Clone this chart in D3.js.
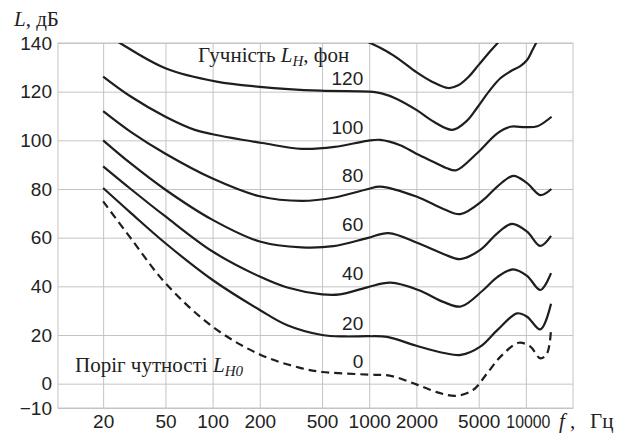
<!DOCTYPE html>
<html lang="uk">
<head>
<meta charset="UTF-8">
<title>Криві рівної гучності</title>
<script src="https://cdn.jsdelivr.net/npm/d3@7"></script>
<style>
  body { margin: 0; background: #fff; }
  .tick text { font-family: "Liberation Sans", Arial, sans-serif; font-size: 19px; fill: #222; }
  .tick line { stroke: #c4c4c4; stroke-width: 1; }
  .serif { font-family: "Liberation Serif", "Times New Roman", serif; font-size: 21px; fill: #222; }
  .num { font-family: "Liberation Sans", Arial, sans-serif; font-size: 19px; fill: #222; }
</style>
</head>
<body>
<script>
// осі
const freqTicks = [20, 50, 100, 200, 500, 1000, 2000, 5000, 10000];
const levelTicks = [-10, 0, 20, 40, 60, 80, 100, 120, 140];

// криві (частота, Гц / рівень, дБ)
const phon140F = [700, 1015, 1300, 1576, 2000, 2500, 3200, 3700, 4300, 5000, 6000, 6900];
const phon140L = [144, 140, 136.5, 133, 128, 124.2, 121.5, 122.6, 126, 131, 137, 141.3];

const phon120F = [20, 25.6, 50, 106, 200, 486, 1000, 1200, 1500, 2000, 2600, 3400, 4200, 4900, 5800, 6870, 7960, 9220, 10180, 11000, 11840];
const phon120L = [144.5, 140, 129.6, 124.1, 122, 120.4, 120, 119.3, 117, 112.5, 107.5, 104.3, 108, 113.5, 120, 125.5, 128.3, 130.5, 133, 137, 141];

const phon100F = [20, 30, 50, 77, 100, 207, 370, 600, 971, 1176, 1576, 2000, 2600, 3137, 3600, 4900, 6570, 7960, 10000, 11840, 14600];
const phon100L = [126.2, 118, 109.7, 104.3, 102.5, 98.9, 96.5, 97.3, 99.8, 100.2, 98, 94.5, 91, 88.5, 87.7, 94.8, 102.9, 105.6, 105.4, 105.8, 109.7];

const phon80F = [20, 30, 50, 100, 200, 370, 600, 971, 1176, 2000, 3000, 3816, 5350, 6570, 8315, 10180, 12380, 14560];
const phon80L = [112, 103.5, 94.5, 84.3, 77, 75.1, 76.5, 79.9, 81, 76.9, 71.7, 69.7, 75.5, 81, 85.4, 82.4, 77.5, 80];

const phon60F = [20, 30, 50, 100, 200, 370, 590, 971, 1327, 2060, 3000, 3816, 5117, 6570, 8160, 10180, 12380, 14480];
const phon60L = [100, 90.5, 79.7, 67.3, 58.4, 56, 56.5, 59.8, 61.9, 57.7, 53.2, 51.2, 55, 61.8, 65.7, 62.5, 56.6, 60.7];

const phon40F = [20, 30, 50, 100, 200, 300, 500, 650, 971, 1367, 2060, 3000, 3850, 5350, 6570, 8315, 10180, 12380, 14480];
const phon40L = [89.3, 80, 68.7, 54.3, 44, 39.5, 36.7, 36.7, 39.6, 41.5, 38.5, 33.5, 31.7, 38.5, 43.8, 47, 44.3, 38.5, 45.4];

const phon20F = [20, 30, 50, 100, 200, 300, 500, 700, 1000, 1300, 2000, 3000, 3850, 5117, 6570, 8790, 10180, 12380, 14480];
const phon20L = [80.4, 70.2, 57.7, 42.6, 30.3, 24, 20, 19.4, 19.5, 19.2, 15.6, 12.6, 11.8, 15.2, 22, 28.9, 27.5, 22.3, 32.8];

const phon0F = [20, 30, 50, 100, 200, 362, 500, 700, 1000, 1350, 2000, 2800, 3600, 4600, 5650, 6870, 8990, 10690, 12380, 13670, 14500];
const phon0L = [74.9, 59.8, 41.3, 23.4, 12, 6.5, 4.8, 4.2, 3.7, 3.3, -0.3, -3.8, -5, -2.6, 4.2, 11, 16.8, 15.2, 10.4, 12.5, 23];

const curves = [
  { f: phon140F, L: phon140L, label: null },
  { f: phon120F, L: phon120L, label: "120" },
  { f: phon100F, L: phon100L, label: "100" },
  { f: phon80F, L: phon80L, label: "80" },
  { f: phon60F, L: phon60L, label: "60" },
  { f: phon40F, L: phon40L, label: "40" },
  { f: phon20F, L: phon20L, label: "20" },
  { f: phon0F, L: phon0L, label: "0", dashed: true }
];

const W = 629, H = 435;
const pL = 58, pR = 573, pT = 43, pB = 408;

const svg = d3.select("body").append("svg")
  .attr("width", W).attr("height", H);

const x = d3.scaleLog().domain([10.3, 20000]).range([pL, pR]);
const y = d3.scaleLinear().domain([-10, 140]).range([pB, pT]);

// сітка + підписи осей
const gx = svg.append("g")
  .attr("transform", `translate(0,${pB})`)
  .call(d3.axisBottom(x).tickValues(freqTicks).tickFormat(d3.format("d"))
    .tickSize(-(pB - pT)).tickPadding(7));
gx.select(".domain").remove();
// 10000 трохи стиснуто, як на оригіналі
gx.selectAll(".tick text").filter(d => d === 10000)
  .attr("dx", 2).attr("textLength", 44).attr("lengthAdjust", "spacingAndGlyphs");

const gy = svg.append("g")
  .attr("transform", `translate(${pL},0)`)
  .call(d3.axisLeft(y).tickValues(levelTicks).tickSize(-(pR - pL)).tickPadding(6));
gy.select(".domain").remove();

svg.append("rect")
  .attr("x", pL).attr("y", pT)
  .attr("width", pR - pL).attr("height", pB - pT)
  .attr("fill", "none").attr("stroke", "#c4c4c4");

svg.append("clipPath").attr("id", "plot")
  .append("rect")
  .attr("x", pL).attr("y", pT)
  .attr("width", pR - pL).attr("height", pB - pT);

const line = d3.line()
  .x(d => x(d[0]))
  .y(d => y(d[1]))
  .curve(d3.curveCatmullRom.alpha(0.5));

const plot = svg.append("g").attr("clip-path", "url(#plot)");

curves.forEach(c => {
  plot.append("path")
    .datum(d3.zip(c.f, c.L))
    .attr("d", line)
    .attr("fill", "none")
    .attr("stroke", "#1e1e1e")
    .attr("stroke-width", 2.2)
    .attr("stroke-dasharray", c.dashed ? "8,5" : null);
});

// рівень кривої на 1000 Гц для підписів
function levelAt(fs, ls, f) {
  for (let i = 0; i < fs.length - 1; i++) {
    if (f >= fs[i] && f <= fs[i + 1]) {
      const t = Math.log(f / fs[i]) / Math.log(fs[i + 1] / fs[i]);
      return ls[i] + t * (ls[i + 1] - ls[i]);
    }
  }
  return ls[0];
}

curves.filter(c => c.label).forEach(c => {
  svg.append("text")
    .attr("class", "num")
    .attr("x", x(1000) - 6)
    .attr("y", y(levelAt(c.f, c.L, 1000)) - 6.5)
    .attr("text-anchor", "end")
    .text(c.label);
});

// назви осей
const yt = svg.append("text").attr("class", "serif").attr("x", 14).attr("y", 26);
yt.append("tspan").attr("font-style", "italic").text("L");
yt.append("tspan").text(", дБ");

const xt = svg.append("text").attr("class", "serif").attr("y", 428);
xt.append("tspan").attr("x", 559).attr("font-style", "italic").text("f");
xt.append("tspan").attr("x", 570).text(",");
xt.append("tspan").attr("x", 590).text("Гц");

const t1 = svg.append("text").attr("class", "serif").attr("x", 198).attr("y", 62);
t1.append("tspan").text("Гучність ");
t1.append("tspan").attr("font-style", "italic").text("L");
t1.append("tspan").attr("font-style", "italic").attr("font-size", "15px").attr("dy", 4).text("H");
t1.append("tspan").attr("dy", -4).text(", фон");

const t2 = svg.append("text").attr("class", "serif").attr("x", 75).attr("y", 372);
t2.append("tspan").text("Поріг чутності ");
t2.append("tspan").attr("font-style", "italic").text("L");
t2.append("tspan").attr("font-style", "italic").attr("font-size", "15px").attr("dy", 4).text("H0");
</script>
</body>
</html>
